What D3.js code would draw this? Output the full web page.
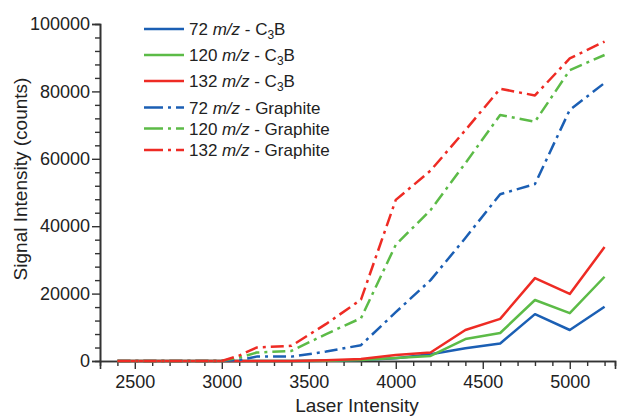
<!DOCTYPE html>
<html>
<head>
<meta charset="utf-8">
<script src="https://cdn.jsdelivr.net/npm/d3@7"></script>
<style>
  body { margin: 0; background: #fff; }
  text { font-family: "Liberation Sans", Arial, sans-serif; fill: #222; }
</style>
</head>
<body>
<svg width="620" height="417"></svg>
<script>
'use strict'

// laser intensity values
const laser = [2400, 2600, 2800, 3000, 3100, 3200, 3400, 3600, 3800, 4000, 4200, 4400, 4600, 4800, 5000, 5200]

// signal (counts)
const c3b72 = [0, 0, 0, 0, 0, 0, 0, 100, 300, 800, 2000, 3800, 5200, 13900, 9200, 16100]
const c3b120 = [0, 0, 0, 0, 0, 0, 0, 100, 300, 900, 1500, 6500, 8300, 18100, 14200, 25000]
const c3b132 = [0, 0, 0, 0, 0, 0, 0, 200, 600, 1800, 2500, 9200, 12500, 24600, 19900, 33800]
const gr72 = [0, 0, 0, 0, 300, 1300, 1300, 2800, 4700, 14500, 24000, 36500, 49500, 52500, 74500, 82500]
const gr120 = [0, 0, 0, 0, 1000, 2500, 3000, 8000, 12700, 34500, 44800, 58700, 73000, 71000, 86300, 90800]
const gr132 = [0, 0, 0, 0, 1600, 4000, 4500, 11000, 18200, 47800, 56500, 68500, 80800, 78800, 89800, 94800]

const seriesNames = ['72', '120', '132', '72', '120', '132']
const seriesKind = ['C3B', 'C3B', 'C3B', 'Graphite', 'Graphite', 'Graphite']
const seriesValues = [c3b72, c3b120, c3b132, gr72, gr120, gr132]

const xMajor = [2500, 3000, 3500, 4000, 4500, 5000]
const yMajor = [0, 20000, 40000, 60000, 80000, 100000]

const colors = ['#1b5fb4', '#5cbb47', '#ee2b24', '#1b5fb4', '#5cbb47', '#ee2b24']

const svg = d3.select('svg')
const margin = { left: 100, right: 5, top: 24, bottom: 56 }
const width = +svg.attr('width')
const height = +svg.attr('height')

const x = d3.scaleLinear().domain([2300, 5260]).range([margin.left, width - margin.right])
const y = d3.scaleLinear().domain([0, 100000]).range([height - margin.bottom, margin.top])

const axisColor = '#333'

// x axis: minor ticks every 100, majors every 500
const xMinor = d3.range(2400, 5201, 100).filter(v => v % 500 !== 0)
svg.append('g')
    .attr('transform', `translate(0,${y(0)})`)
    .call(d3.axisBottom(x).tickValues(xMinor).tickSize(5).tickFormat(''))
svg.append('g')
    .attr('transform', `translate(0,${y(0)})`)
    .call(d3.axisBottom(x).tickValues(xMajor).tickSize(8).tickPadding(6).tickFormat(d3.format('d')))

// y axis: minor ticks every 4000
const yMinor = d3.range(0, 100001, 4000).filter(v => v % 20000 !== 0)
svg.append('g')
    .attr('transform', `translate(${x(2300)},0)`)
    .call(d3.axisLeft(y).tickValues(yMinor).tickSize(5).tickFormat(''))
svg.append('g')
    .attr('transform', `translate(${x(2300)},0)`)
    .call(d3.axisLeft(y).tickValues(yMajor).tickSize(8).tickPadding(2).tickFormat(d3.format('d')))

svg.selectAll('.domain').attr('stroke', axisColor).attr('stroke-width', 1.6)
svg.selectAll('.tick line').attr('stroke', axisColor).attr('stroke-width', 1.4)
svg.selectAll('.tick text').attr('font-size', 18).attr('fill', '#222')
    .attr('font-family', '"Liberation Sans", Arial, sans-serif')

// lines
const line = d3.line()
    .x((d, i) => x(laser[i]))
    .y(d => y(d))

svg.append('g')
    .selectAll('path')
    .data(seriesValues)
    .enter()
    .append('path')
    .attr('d', d => line(d))
    .attr('fill', 'none')
    .attr('stroke', (d, i) => colors[i])
    .attr('stroke-width', 2.5)
    .attr('stroke-linejoin', 'round')
    .attr('stroke-dasharray', (d, i) => seriesKind[i] === 'Graphite' ? '13,5,3,5' : null)

// axis titles
svg.append('text')
    .attr('x', 357)
    .attr('y', 412)
    .attr('text-anchor', 'middle')
    .attr('font-size', 19)
    .text('Laser Intensity')

svg.append('text')
    .attr('transform', 'translate(27,179) rotate(-90)')
    .attr('text-anchor', 'middle')
    .attr('font-size', 19)
    .text('Signal Intensity (counts)')

// legend
const legendY = [29, 55, 81, 107.5, 128.5, 150]
const legend = svg.append('g')
    .selectAll('g')
    .data(seriesNames)
    .enter()
    .append('g')
    .attr('transform', (d, i) => `translate(144,${legendY[i]})`)

legend.append('line')
    .attr('x1', 0)
    .attr('x2', 40)
    .attr('stroke', (d, i) => colors[i])
    .attr('stroke-width', 2.5)
    .attr('stroke-dasharray', (d, i) => seriesKind[i] === 'Graphite' ? '19,5,3,5' : null)

const label = legend.append('text')
    .attr('x', 45)
    .attr('y', 6)
    .attr('font-size', 17)

label.append('tspan').text(d => d + ' ')
label.append('tspan').attr('font-style', 'italic').text('m/z')
label.each(function (d, i) {
    const t = d3.select(this)
    if (seriesKind[i] === 'C3B') {
        t.append('tspan').text(' - C')
        t.append('tspan').attr('font-size', 12).attr('dy', 4).text('3')
        t.append('tspan').attr('dy', -4).text('B')
    } else {
        t.append('tspan').text(' - Graphite')
    }
})
</script>
</body>
</html>
